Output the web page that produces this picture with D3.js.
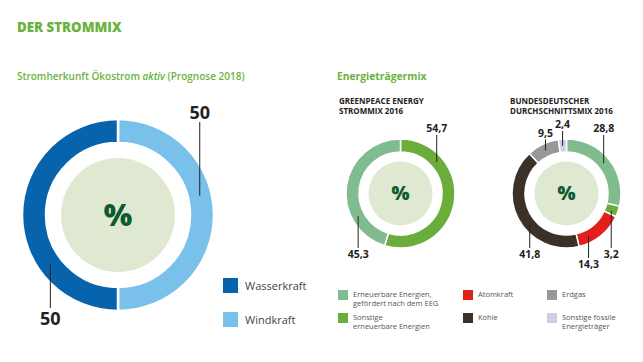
<!DOCTYPE html>
<html>
<head>
<meta charset="utf-8">
<script src="https://cdn.jsdelivr.net/npm/d3@7"></script>
<style>
  body { margin: 0; background: #fff; }
  text { font-family: "Open Sans", sans-serif; }
</style>
</head>
<body>
<div id="chart-area"></div>
<script>
/* Data */
const bigCategories = ['Windkraft', 'Wasserkraft'];
const bigValues     = [50, 50];
const bigLegend     = ['Wasserkraft', 'Windkraft'];

const gpeCategories = ['Sonstige erneuerbare Energien', 'Erneuerbare Energien, gefördert nach dem EEG'];
const gpeValues     = [54.7, 45.3];

const bdCategories  = ['Erneuerbare Energien, gefördert nach dem EEG', 'Sonstige erneuerbare Energien',
                       'Atomkraft', 'Kohle', 'Erdgas', 'Sonstige fossile Energieträger'];
const bdValues      = [28.8, 3.2, 14.3, 41.8, 9.5, 2.4];

const mixLegend = [
    ['Erneuerbare Energien, gefördert nach dem EEG', ['Erneuerbare Energien,', 'gefördert nach dem EEG']],
    ['Sonstige erneuerbare Energien', ['Sonstige', 'erneuerbare Energien']],
    ['Atomkraft', ['Atomkraft']],
    ['Kohle', ['Kohle']],
    ['Erdgas', ['Erdgas']],
    ['Sonstige fossile Energieträger', ['Sonstige fossile', 'Energieträger']]
];

/* Colours */
const color = d3.scaleOrdinal()
    .domain(['Wasserkraft', 'Windkraft',
             'Erneuerbare Energien, gefördert nach dem EEG', 'Sonstige erneuerbare Energien',
             'Atomkraft', 'Kohle', 'Erdgas', 'Sonstige fossile Energieträger'])
    .range(['#0763ab', '#79c1ea', '#80bc8f', '#6aad3a', '#e21f1b', '#3b3129', '#989898', '#cfcce4']);

const green = '#6ab23e';
const fmtDe = d3.formatLocale({ decimal: ',', thousands: '.', grouping: [3], currency: ['', ' €'] });

const W = 643, H = 362;
const svg = d3.select('#chart-area').append('svg')
    .attr('width', W).attr('height', H);

/* Titles */
svg.append('text').attr('x', 17).attr('y', 32)
    .attr('fill', green).attr('font-size', '13.3px').attr('font-weight', 800)
    .text('DER STROMMIX');

const sub = svg.append('text').attr('x', 17).attr('y', 80)
    .attr('fill', green).attr('font-size', '10px').attr('font-weight', 600);
sub.append('tspan').text('Stromherkunft Ökostrom ');
sub.append('tspan').attr('font-style', 'italic').text('aktiv');
sub.append('tspan').text(' (Prognose 2018)');

svg.append('text').attr('x', 337).attr('y', 80)
    .attr('fill', green).attr('font-size', '10.3px').attr('font-weight', 700)
    .text('Energieträgermix');

[[339, ['GREENPEACE ENERGY', 'STROMMIX 2016']],
 [510, ['BUNDESDEUTSCHER', 'DURCHSCHNITTSMIX 2016']]].forEach(([x, lines]) => {
    svg.append('text').attr('x', x).attr('y', 104)
        .attr('fill', '#222').attr('font-size', '8px').attr('font-weight', 700)
        .selectAll('tspan').data(lines).enter().append('tspan')
        .attr('x', x).attr('dy', (d, i) => i ? 9.5 : 0)
        .text(d => d);
});

/* Donut */
function donut(cfg) {
    const g = svg.append('g').attr('transform', `translate(${cfg.cx},${cfg.cy})`);
    const total = d3.sum(cfg.values);
    const angle = d3.scaleLinear().domain([0, total]).range([0, 2 * Math.PI]);

    const pie = d3.pie().sort(null).value(d => d.v);
    const arc = d3.arc().innerRadius(cfg.rIn).outerRadius(cfg.rOut);
    const data = cfg.cats.map((c, i) => ({ c: c, v: cfg.values[i] }));

    g.selectAll('path').data(pie(data)).enter().append('path')
        .attr('d', arc)
        .attr('fill', d => color(d.data.c))
        .attr('stroke', '#fff').attr('stroke-width', cfg.gap);

    g.append('circle').attr('r', cfg.rCore).attr('fill', '#dfe8d0');
    g.append('text').attr('y', cfg.pctSize * 0.36)
        .attr('text-anchor', 'middle')
        .attr('font-size', cfg.pctSize + 'px').attr('font-weight', 800)
        .attr('fill', '#0e5a2f').text('%');

    /* Leader lines + labels */
    const rMid = (cfg.rIn + cfg.rOut) / 2;
    cfg.labels.forEach((lb, i) => {
        const a = angle(lb.pos);
        const px = rMid * Math.sin(a), py = -rMid * Math.cos(a);
        g.append('line')
            .attr('x1', px).attr('y1', py).attr('x2', px).attr('y2', lb.end)
            .attr('stroke', '#222').attr('stroke-width', 1);
        g.append('text')
            .attr('x', px).attr('y', lb.end + (lb.end < 0 ? -3 : cfg.labelSize * 0.95))
            .attr('text-anchor', 'middle')
            .attr('font-size', cfg.labelSize + 'px').attr('font-weight', 700)
            .attr('fill', '#222')
            .text(cfg.fmt(cfg.values[i]));
    });
}

donut({
    cx: 118, cy: 215, rOut: 96, rIn: 72, rCore: 57, gap: 2.5, pctSize: 30, labelSize: 18,
    cats: bigCategories, values: bigValues, fmt: fmtDe.format('.0f'),
    labels: [{ pos: 21.3, end: -93 }, { pos: 64.9, end: 93 }]
});

donut({
    cx: 400.5, cy: 193.5, rOut: 54.5, rIn: 41.5, rCore: 32, gap: 1.5, pctSize: 19, labelSize: 10.5,
    cats: gpeCategories, values: gpeValues, fmt: fmtDe.format('.1f'),
    labels: [{ pos: 13.6, end: -58.5 }, { pos: 67.2, end: 54.5 }]
});

donut({
    cx: 566.5, cy: 193.5, rOut: 54.5, rIn: 41.5, rCore: 32, gap: 1.5, pctSize: 19, labelSize: 10.5,
    cats: bdCategories, values: bdValues, fmt: fmtDe.format('.1f'),
    labels: [{ pos: 14.1, end: -58.5 }, { pos: 30.9, end: 54.5 }, { pos: 42.4, end: 64.5 },
             { pos: 63.9, end: 54.5 }, { pos: 92.8, end: -54 }, { pos: 98.7, end: -62.5 }]
});

/* Legend, left */
const lg1 = svg.append('g').selectAll('g').data(bigLegend).enter().append('g')
    .attr('transform', (d, i) => `translate(223,${278 + i * 34})`);
lg1.append('rect').attr('width', 15).attr('height', 15).attr('fill', d => color(d));
lg1.append('text').attr('x', 22).attr('y', 11.5)
    .attr('font-size', '11px').attr('fill', '#444').text(d => d);

/* Legend, right */
const colX = [338, 463, 547];
const lg2 = svg.append('g').selectAll('g').data(mixLegend).enter().append('g')
    .attr('transform', (d, i) => `translate(${colX[Math.floor(i / 2)]},${290 + (i % 2) * 23})`);
lg2.append('rect').attr('width', 10).attr('height', 10).attr('fill', d => color(d[0]));
lg2.append('text').attr('y', 7)
    .attr('font-size', '7.5px').attr('fill', '#555')
    .selectAll('tspan').data(d => d[1]).enter().append('tspan')
    .attr('x', 15).attr('dy', (d, i) => i ? 9 : 0)
    .text(d => d);
</script>
</body>
</html>
